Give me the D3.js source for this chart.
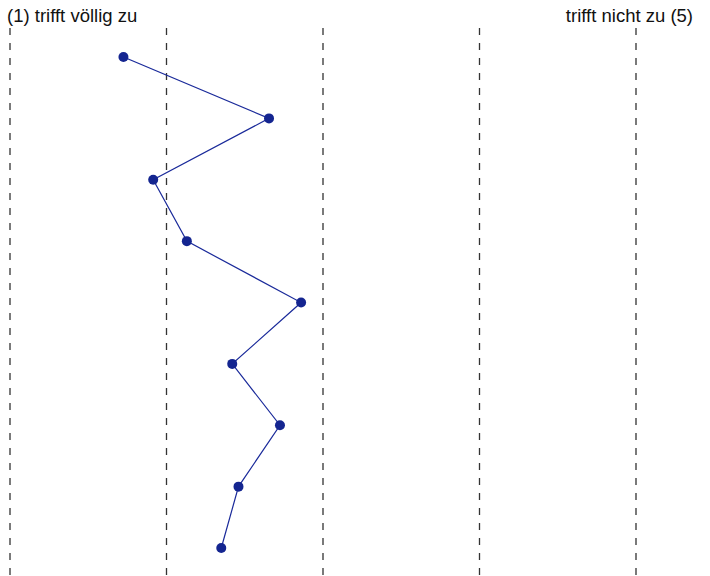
<!DOCTYPE html>
<html lang="de">
<head>
    <meta charset="utf-8">
    <script src="https://d3js.org/d3.v7.min.js"></script>
</head>
<body style="margin:0;background:#fff">
<svg></svg>
<script>
    const width = 710;
    const height = 576;

    // items (rows) and their mean ratings on the 1..5 scale
    const items = ['1', '2', '3', '4', '5', '6', '7', '8', '9'];
    const values = [1.725, 2.655, 1.915, 2.13, 2.86, 2.42, 2.725, 2.46, 2.35];
    const scaleTicks = [1, 2, 3, 4, 5];
    const leftLabel = '(1) trifft völlig zu';
    const rightLabel = 'trifft nicht zu (5)';

    const svg = d3.select('svg')
        .attr('width', width)
        .attr('height', height)
        .style('font-family', 'Liberation Sans, Arial, sans-serif');

    const x = d3.scaleLinear().domain([1, 5]).range([10, 636]);
    const y = d3.scalePoint().domain(items).range([57, 548]);

    // dashed guide lines for each scale step
    svg.selectAll('line.guide')
        .data(scaleTicks)
        .enter().append('line')
        .attr('class', 'guide')
        .attr('x1', (d) => x(d))
        .attr('x2', (d) => x(d))
        .attr('y1', 28)
        .attr('y2', height)
        .attr('stroke', '#333')
        .attr('stroke-width', 1.3)
        .attr('stroke-dasharray', '7,8');

    svg.append('text')
        .attr('x', 7)
        .attr('y', 22)
        .attr('font-size', 18.5)
        .attr('fill', '#111')
        .text(leftLabel);

    svg.append('text')
        .attr('x', 693)
        .attr('y', 22)
        .attr('font-size', 18.5)
        .attr('fill', '#111')
        .attr('text-anchor', 'end')
        .text(rightLabel);

    const line = d3.line()
        .x((d) => x(d))
        .y((d, i) => y(items[i]));

    svg.append('path')
        .datum(values)
        .attr('d', line)
        .attr('fill', 'none')
        .attr('stroke', '#1a2a9a')
        .attr('stroke-width', 1.2);

    svg.selectAll('circle')
        .data(values)
        .enter().append('circle')
        .attr('cx', (d) => x(d))
        .attr('cy', (d, i) => y(items[i]))
        .attr('r', 5)
        .attr('fill', '#142590');
</script>
</body>
</html>
